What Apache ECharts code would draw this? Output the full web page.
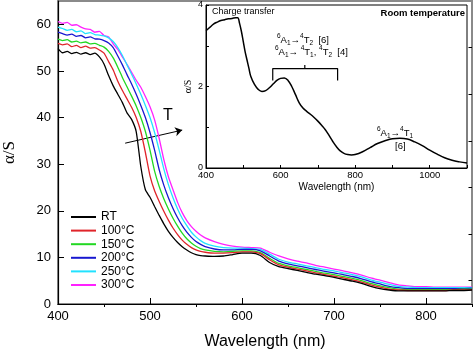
<!DOCTYPE html>
<html>
<head>
<meta charset="utf-8">
<script src="https://cdn.jsdelivr.net/npm/echarts@6/dist/echarts.min.js"></script>
<style>
  html, body { margin: 0; padding: 0; background: #fff; }
  #chart { width: 474px; height: 351px; }
</style>
</head>
<body>
<div id="chart"></div>
<script>
// main plot: absorption vs wavelength at different temperatures
const wavelengths = [
  400, 405, 410, 415, 420, 425, 430, 435, 440, 445, 450, 455, 460, 465, 470, 475, 480,
  485, 490, 495, 500, 505, 510, 515, 520, 525, 530, 535, 540, 545, 550, 555, 560,
  570, 580, 590, 600, 610, 620, 630, 640, 650, 660, 670, 680, 690, 700, 710, 720,
  730, 740, 750, 760, 770, 780, 790, 800, 810, 820, 830, 840, 850
]
const seriesNames = ['RT', '100°C', '150°C', '200°C', '250°C', '300°C']
const seriesColors = ['#000000', '#e0242a', '#22d822', '#1818d0', '#22e2ff', '#ff22ff']

const rt = [
  54.8, 53.9, 54.2, 53.7, 54.0, 53.6, 53.9, 53.5, 53.8, 53.0, 51.5, 49.0, 46.8, 45.0, 43.2, 41.0, 39.6,
  37.0, 29.5, 24.5, 22.9, 20.9, 19.0, 17.2, 15.6, 14.3, 13.2, 12.3, 11.6, 11.0, 10.6, 10.4, 10.3,
  10.2, 10.3, 10.6, 10.9, 10.9, 10.4, 8.9, 8.0, 7.6, 7.2, 6.8, 6.4, 6.1, 5.7, 5.3, 4.9,
  4.4, 3.8, 3.3, 3.0, 2.8, 2.8, 2.8, 2.8, 2.8, 2.8, 2.9, 2.9, 3.0
]
const t100 = [
  55.9, 55.6, 55.8, 55.2, 55.5, 55.0, 55.3, 54.9, 55.0, 54.5, 53.8, 52.0, 50.2, 47.8, 45.8, 44.0, 42.2,
  40.0, 37.0, 32.5, 27.5, 24.3, 22.0, 19.9, 18.0, 16.3, 14.9, 13.7, 12.8, 12.1, 11.6, 11.3, 11.1,
  10.9, 10.9, 11.0, 11.2, 11.2, 10.8, 9.5, 8.4, 7.9, 7.5, 7.1, 6.7, 6.3, 6.0, 5.6, 5.2,
  4.7, 4.1, 3.6, 3.2, 3.0, 2.9, 2.9, 2.9, 2.9, 2.9, 3.0, 3.0, 3.1
]
const t150 = [
  56.8, 56.5, 56.7, 56.2, 56.4, 56.0, 56.2, 55.8, 55.9, 55.5, 55.1, 54.2, 52.8, 50.8, 48.6, 46.6, 44.6,
  42.5, 40.0, 37.0, 33.0, 28.5, 25.2, 22.6, 20.4, 18.4, 16.7, 15.2, 14.0, 13.1, 12.4, 11.9, 11.6,
  11.3, 11.2, 11.3, 11.4, 11.4, 11.0, 9.8, 8.7, 8.2, 7.8, 7.4, 7.0, 6.6, 6.3, 5.9, 5.5,
  5.0, 4.4, 3.9, 3.5, 3.2, 3.1, 3.1, 3.1, 3.1, 3.1, 3.1, 3.2, 3.2
]
const t200 = [
  58.3, 58.0, 57.7, 57.9, 57.4, 57.6, 57.1, 57.3, 56.9, 56.8, 56.5, 56.0, 55.0, 53.2, 51.3, 49.2, 47.2,
  45.0, 42.6, 40.0, 36.8, 33.0, 28.8, 25.5, 22.8, 20.5, 18.5, 16.8, 15.4, 14.3, 13.4, 12.8, 12.3,
  11.8, 11.6, 11.6, 11.7, 11.7, 11.4, 10.3, 9.2, 8.6, 8.2, 7.8, 7.4, 7.0, 6.7, 6.3, 5.9,
  5.4, 4.8, 4.3, 3.8, 3.5, 3.3, 3.3, 3.3, 3.3, 3.3, 3.3, 3.3, 3.4
]
const t250 = [
  59.4, 59.1, 58.7, 58.9, 58.4, 58.6, 58.0, 58.2, 57.8, 57.7, 57.5, 57.1, 56.3, 55.0, 53.3, 51.3, 49.3,
  47.2, 45.0, 42.6, 40.0, 36.8, 33.0, 29.0, 25.6, 22.8, 20.4, 18.4, 16.8, 15.4, 14.4, 13.6, 13.0,
  12.4, 12.1, 12.0, 12.0, 11.9, 11.7, 10.7, 9.6, 9.0, 8.6, 8.2, 7.8, 7.4, 7.1, 6.7, 6.3,
  5.8, 5.2, 4.7, 4.2, 3.8, 3.6, 3.5, 3.5, 3.5, 3.5, 3.5, 3.5, 3.5
]
const t300 = [
  60.6, 60.2, 60.4, 59.8, 59.9, 59.4, 59.0, 58.9, 58.3, 58.5, 57.6, 57.3, 55.8, 54.6, 53.0, 51.4, 49.7,
  48.0, 46.5, 44.5, 42.3, 39.5, 35.5, 31.0, 27.3, 24.5, 21.8, 19.6, 17.9, 16.6, 15.6, 14.8, 14.2,
  13.4, 12.8, 12.4, 12.2, 12.1, 12.0, 11.1, 10.3, 9.7, 9.2, 8.8, 8.3, 7.9, 7.5, 7.1, 6.7,
  6.2, 5.6, 5.1, 4.6, 4.1, 3.9, 3.7, 3.7, 3.6, 3.6, 3.6, 3.6, 3.6
]
const mainValues = [rt, t100, t150, t200, t250, t300]

const mainXLabels = [400, 500, 600, 700, 800]
const mainXMinor = [450, 550, 650, 750, 850]
const mainYLabels = [0, 10, 20, 30, 40, 50, 60]
const mainYMinor = [5, 15, 25, 35, 45, 55]

// temperature arrow (data coords)
const tArrow = [[473, 34.5], [535, 37.3]]

// inset: room temperature spectrum
const insetWl = [
  400, 410, 420, 430, 440, 450, 460, 470, 480, 485, 490, 495, 500, 505, 510, 515, 520,
  530, 540, 550, 560, 570, 580, 590, 600, 610, 620, 630, 640, 650, 660, 670, 680, 690,
  700, 710, 720, 730, 740, 750, 760, 770, 780, 790, 800, 820, 840, 860, 880, 900, 920,
  940, 960, 980, 1000, 1020, 1040, 1060, 1080, 1100
]
const insetVals = [
  3.37, 3.45, 3.53, 3.58, 3.62, 3.64, 3.66, 3.67, 3.69, 3.69, 3.55, 3.35, 3.10, 2.85, 2.65, 2.45, 2.25,
  2.05, 1.93, 1.88, 1.90, 1.97, 2.06, 2.15, 2.20, 2.21, 2.15, 2.00, 1.80, 1.60, 1.47, 1.39, 1.32, 1.24,
  1.15, 1.05, 0.94, 0.80, 0.65, 0.52, 0.42, 0.36, 0.33, 0.32, 0.33, 0.40, 0.50, 0.60, 0.67, 0.72, 0.73,
  0.71, 0.64, 0.55, 0.44, 0.34, 0.25, 0.19, 0.15, 0.12
]
const insetXLabels = [400, 600, 800, 1000]
const insetXTicks = [500, 700, 900, 1100]
const insetYLabels = [0, 2, 4]
const insetYTicks = [1, 3]
const bracket = [[579, 2.15], [579, 2.44], [753, 2.44], [753, 2.15]]
const bracketStem = [[665, 2.44], [665, 2.53]]

const font = 'Liberation Sans, Arial, sans-serif'
const zip = (xs, ys) => xs.map((x, i) => [x, ys[i]])

const chart = echarts.init(document.getElementById('chart'))

const mainSeries = seriesNames.map((name, i) => ({
  name,
  type: 'line',
  xAxisIndex: 0,
  yAxisIndex: 0,
  symbol: 'none',
  smooth: 0.2,
  data: zip(wavelengths, mainValues[i]),
  lineStyle: { color: seriesColors[i], width: 1.3 },
  itemStyle: { color: seriesColors[i] },
  z: 10 - i
}))
mainSeries[0].markLine = {
  silent: true,
  symbol: ['none', 'arrow'],
  symbolSize: 7,
  label: { show: false },
  lineStyle: { color: '#000', width: 1, type: 'solid' },
  data: [[{ coord: tArrow[0] }, { coord: tArrow[1] }]]
}

const rich = {
  b: { fontSize: 9.5, fontFamily: font, color: '#000', lineHeight: 14 },
  sup: { fontSize: 6.5, fontFamily: font, color: '#000', verticalAlign: 'top', lineHeight: 14 },
  sub: { fontSize: 6.5, fontFamily: font, color: '#000', verticalAlign: 'bottom', lineHeight: 14 }
}

const plain = v => String(v)

const option = {
  animation: false,
  backgroundColor: '#fff',
  grid: [
    { left: 58, right: 2, top: 1, bottom: 47, outerBoundsMode: 'none', containLabel: false, show: true, borderColor: '#8a8a8a', borderWidth: 2 },
    { left: 206, right: 7, top: 5, bottom: 183, outerBoundsMode: 'none', containLabel: false, show: true, borderColor: '#000', borderWidth: 1, backgroundColor: '#fff', z: 20 }
  ],
  legend: {
    orient: 'vertical',
    left: 66,
    top: 206,
    itemWidth: 25,
    itemHeight: 12,
    itemGap: 1.6,
    icon: 'path://M0,0 L25,0 L25,2 L0,2 Z',
    data: seriesNames,
    textStyle: { fontSize: 12, fontFamily: font, color: '#000' }
  },
  xAxis: [
    {
      gridIndex: 0, type: 'value', min: 400, max: 850,
      name: 'Wavelength (nm)', nameLocation: 'middle', nameGap: 30,
      nameTextStyle: { fontSize: 16, fontFamily: font, color: '#000' },
      axisLine: { lineStyle: { color: '#000', width: 1.2 } },
      axisTick: { inside: true, length: 6, customValues: mainXLabels, lineStyle: { color: '#000' } },
      axisLabel: { customValues: mainXLabels, formatter: plain, fontSize: 13, fontFamily: font, color: '#000', margin: 6 },
      splitLine: { show: false }
    },
    {
      gridIndex: 0, type: 'value', min: 400, max: 850,
      axisLine: { show: false },
      axisTick: { inside: true, length: 3, customValues: mainXMinor, lineStyle: { color: '#000' } },
      axisLabel: { show: false },
      splitLine: { show: false }
    },
    {
      gridIndex: 1, type: 'value', min: 400, max: 1100,
      name: 'Wavelength (nm)', nameLocation: 'middle', nameGap: 14,
      nameTextStyle: { fontSize: 10, fontFamily: font, color: '#000' },
      axisLine: { lineStyle: { color: '#000', width: 1 } },
      axisTick: { inside: true, length: 3, customValues: insetXTicks.concat(insetXLabels), lineStyle: { color: '#000' } },
      axisLabel: { customValues: insetXLabels, formatter: plain, fontSize: 9.5, fontFamily: font, color: '#000', margin: 2 },
      splitLine: { show: false },
      z: 21
    }
  ],
  yAxis: [
    {
      gridIndex: 0, type: 'value', min: 0, max: 65,
      name: 'α/S', nameLocation: 'middle', nameGap: 40, nameRotate: 90,
      nameTextStyle: { fontSize: 17, fontFamily: 'Liberation Serif, serif', color: '#000' },
      axisLine: { lineStyle: { color: '#000', width: 1.2 } },
      axisTick: { inside: true, length: 6, customValues: mainYLabels, lineStyle: { color: '#000' } },
      axisLabel: { customValues: mainYLabels, formatter: plain, fontSize: 13, fontFamily: font, color: '#000', margin: 7 },
      splitLine: { show: false }
    },
    {
      gridIndex: 0, type: 'value', min: 0, max: 65,
      axisLine: { show: false },
      axisTick: { inside: true, length: 3.5, customValues: mainYMinor, lineStyle: { color: '#000' } },
      axisLabel: { show: false },
      splitLine: { show: false }
    },
    {
      gridIndex: 1, type: 'value', min: 0, max: 4,
      name: 'α/S', nameLocation: 'middle', nameGap: 13, nameRotate: 90, nameMoveOverlap: false,
      nameTextStyle: { fontSize: 10, fontFamily: 'Liberation Serif, serif', color: '#000' },
      axisLine: { lineStyle: { color: '#000', width: 1 } },
      axisTick: { inside: true, length: 3, customValues: insetYTicks.concat(insetYLabels), lineStyle: { color: '#000' } },
      axisLabel: { customValues: insetYLabels, formatter: plain, fontSize: 9, fontFamily: font, color: '#000', margin: 3 },
      splitLine: { show: false },
      z: 21
    }
  ],
  series: mainSeries.concat([
    {
      name: 'inset', type: 'line', xAxisIndex: 2, yAxisIndex: 2, symbol: 'none', smooth: 0.4,
      data: zip(insetWl, insetVals), lineStyle: { color: '#000', width: 1.5 }, z: 22
    },
    {
      name: 'bracket', type: 'line', xAxisIndex: 2, yAxisIndex: 2, symbol: 'none',
      data: bracket, lineStyle: { color: '#000', width: 1.2 }, z: 22
    },
    {
      name: 'stem', type: 'line', xAxisIndex: 2, yAxisIndex: 2, symbol: 'none',
      data: bracketStem, lineStyle: { color: '#000', width: 1.2 }, z: 22
    }
  ]),
  graphic: [
    { type: 'text', left: 163, top: 108, z: 30, style: { text: 'T', fontSize: 16, fontFamily: font, fill: '#000' } },
    { type: 'text', left: 212, top: 7, z: 30, style: { text: 'Charge transfer', fontSize: 9, fontFamily: font, fill: '#000' } },
    { type: 'text', right: 9, top: 8, z: 30, style: { text: 'Room temperature', fontSize: 9.5, fontWeight: 'bold', fontFamily: font, fill: '#000' } },
    { type: 'text', left: 277, top: 33, z: 30, style: { text: '{sup|6}{b|A}{sub|1}{b|→}{sup|4}{b|T}{sub|2}{b|  [6]}', rich } },
    { type: 'text', left: 275, top: 45, z: 30, style: { text: '{sup|6}{b|A}{sub|1}{b|→ }{sup|4}{b|T}{sub|1}{b|, }{sup|4}{b|T}{sub|2}{b|  [4]}', rich } },
    { type: 'text', left: 377, top: 126, z: 30, style: { text: '{sup|6}{b|A}{sub|1}{b|→}{sup|4}{b|T}{sub|1}', rich } },
    { type: 'text', left: 395, top: 141, z: 30, style: { text: '[6]', fontSize: 9.5, fontFamily: font, fill: '#000' } }
  ]
}

chart.setOption(option)
</script>
</body>
</html>
